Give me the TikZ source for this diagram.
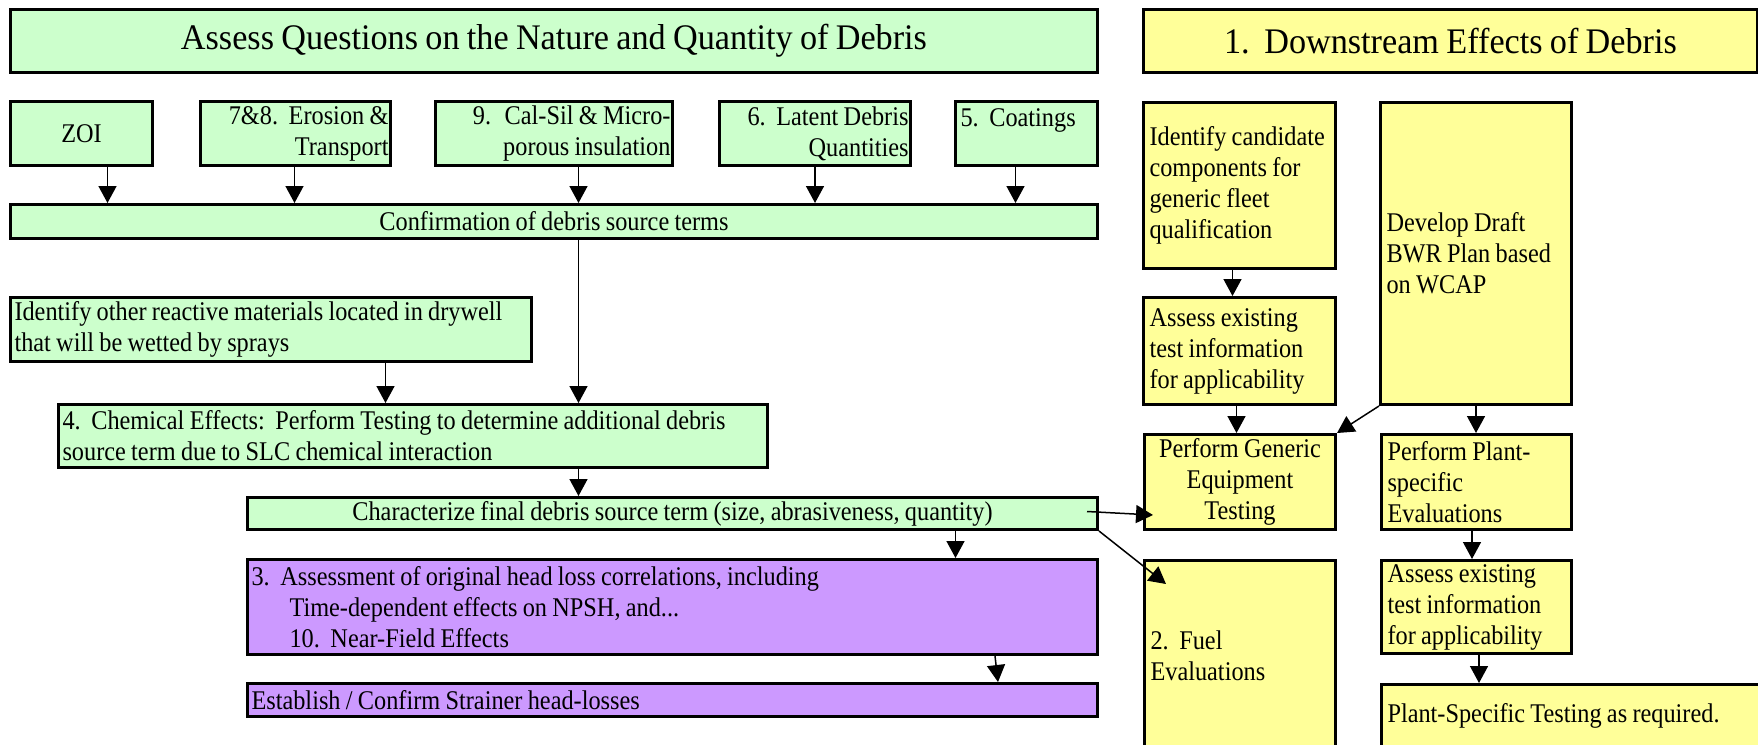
\documentclass[tikz,border=0pt]{standalone}
\usepackage{fontspec}
\setmainfont{Liberation Serif}[FakeStretch=0.9]
\newfontfamily\ttlfont{Liberation Serif}[FakeStretch=0.95]
\usetikzlibrary{arrows.meta,calc}
\definecolor{gfill}{HTML}{CCFFCC}
\definecolor{yfill}{HTML}{FFFF99}
\definecolor{pfill}{HTML}{CC99FF}
\begin{document}
\begin{tikzpicture}[x=1pt,y=-1pt,
  box/.style={draw, line width=3pt, inner xsep=4pt, inner ysep=0pt, anchor=north west,
              font=\fontsize{27}{31}\selectfont,
              execute at begin node={\spaceskip=5.3pt\relax}},
  gbox/.style={box, fill=gfill},
  ybox/.style={box, fill=yfill, inner xsep=6pt},
  pbox/.style={box, fill=pfill},
  ttl/.style={draw, line width=3pt, inner sep=0pt, anchor=north west, align=center,
              font=\ttlfont\fontsize{36}{40}\selectfont,
              execute at begin node={\spaceskip=7.3pt\relax}},
  arr/.style={-{Triangle[length=17pt,width=18pt]}, line width=1.5pt}]
\clip (0,0) rectangle (1758,744);
\fill[white] (0,0) rectangle (1758,744);

% titles
\node[ttl, fill=gfill, minimum width=1087pt, minimum height=63pt, text width=1087pt] (t1) at (9,8)
  {Assess Questions on the Nature and Quantity of Debris};
\node[ttl, fill=yfill, minimum width=614pt, minimum height=63pt, text width=614pt] (t2) at (1142,8)
  {1.\ \ Downstream Effects of Debris};

% top row
\node[gbox, minimum width=142pt, minimum height=64pt, text width=134pt, align=center] (zoi) at (9,100) {ZOI};
\node[gbox, inner xsep=2pt, minimum width=190pt, minimum height=64pt, text width=186pt, align=right] (ero) at (199,100)
  {7\&8.\ \ Erosion \&\\Transport};
\node[gbox, inner xsep=2pt, minimum width=237pt, minimum height=64pt, text width=233pt, align=right] (cal) at (434,100)
  {9. Cal-Sil \& Micro-\\porous insulation};
\node[gbox, inner xsep=2pt, minimum width=191pt, minimum height=64pt, text width=187pt, align=right] (lat) at (718,100)
  {6.\ \ Latent Debris\\Quantities};
\node[gbox, inner xsep=5pt, minimum width=142pt, minimum height=64pt, text width=132pt, align=left] (coat) at (954,100)
  {5.\ \ Coatings\\\phantom{X}};

\node[gbox, minimum width=1087pt, minimum height=34pt, text width=1079pt, align=center] (conf) at (9,203)
  {Confirmation of debris source terms};
\node[gbox, minimum width=521pt, minimum height=64pt, text width=513pt, align=left] (ident) at (9,296)
  {Identify other reactive materials located in drywell\\that will be wetted by sprays};
\node[gbox, minimum width=709pt, minimum height=63pt, text width=701pt, align=left] (chem) at (57,403)
  {4.\ \ Chemical Effects:\ \ Perform Testing to determine additional debris\\source term due to SLC chemical interaction};
\node[gbox, minimum width=850pt, minimum height=32pt, text width=842pt, align=center] (char) at (246,496)
  {Characterize final debris source term (size, abrasiveness, quantity)};
\node[pbox, minimum width=850pt, minimum height=95pt, text width=842pt, align=left] (assess) at (246,558)
  {3.\ \ Assessment of original head loss correlations, including\\
   \hspace*{38pt}Time-dependent effects on NPSH, and...\\
   \hspace*{38pt}10.\ \ Near-Field Effects};
\node[pbox, minimum width=850pt, minimum height=33pt, text width=842pt, align=left] (estab) at (246,682)
  {Establish / Confirm Strainer head-losses};

% right side
\node[ybox, minimum width=192pt, minimum height=166pt, text width=180pt, align=left] (cand) at (1142,101)
  {Identify candidate\\components for\\generic fleet\\qualification};
\node[ybox, minimum width=192pt, minimum height=107pt, text width=180pt, align=left] (ass1) at (1142,296)
  {Assess existing\\test information\\for applicability};
\node[ybox, minimum width=191pt, minimum height=302pt, text width=179pt, align=left] (dev) at (1379,101)
  {Develop Draft\\BWR Plan based\\on WCAP};
\node[ybox, minimum width=191pt, minimum height=95pt, text width=179pt, align=center] (pg) at (1143,433)
  {Perform Generic\\Equipment\\Testing};
\node[ybox, minimum width=190pt, minimum height=95pt, text width=178pt, align=left] (pp) at (1380,433)
  {Perform Plant-\\specific\\Evaluations};
\node[ybox, minimum width=191pt, minimum height=191pt, text width=179pt, align=left] (fuel) at (1143,559)
  {2.\ \ Fuel\\Evaluations};
\node[ybox, minimum width=190pt, minimum height=93pt, text width=178pt, align=left] (ass2) at (1380,559)
  {Assess existing\\test information\\for applicability};
\node[ybox, minimum width=380pt, minimum height=63pt, text width=368pt, align=left] (pst) at (1380,683)
  {Plant-Specific Testing as required.};

% connectors
\coordinate (a1) at ([xshift=26pt]zoi.south);   \draw[arr] (a1) -- (a1 |- conf.north);
\coordinate (a2) at ([xshift=-1pt]ero.south);   \draw[arr] (a2) -- (a2 |- conf.north);
\coordinate (a3) at ([xshift=24.5pt]cal.south); \draw[arr] (a3) -- (a3 |- conf.north);
\coordinate (a4) at (lat.south);                \draw[arr] (a4) -- (a4 |- conf.north);
\coordinate (a5) at ([xshift=-11pt]coat.south); \draw[arr] (a5) -- (a5 |- conf.north);
\coordinate (a6) at ([xshift=24.5pt]conf.south); \draw[arr] (a6) -- (a6 |- chem.north);
\coordinate (a7) at ([xshift=114.5pt]ident.south); \draw[arr] (a7) -- (a7 |- chem.north);
\coordinate (a8) at ([xshift=165.5pt]chem.south); \draw[arr] (a8) -- (a8 |- char.north);
\coordinate (a9) at ([xshift=283pt]char.south); \draw[arr] (a9) -- (a9 |- assess.north);
\draw[arr] ($(assess.south west)+(749,0)$) -- ($(estab.north west)+(752,0)$);
\draw[arr] ($(char.east)+(-12,-2)$) -- ($(pg.south west)+(10,-16)$);
\draw[arr] (char.south east) -- ($(fuel.north west)+(23,25)$);

\coordinate (b1) at ([xshift=-7pt]cand.south);  \draw[arr] (b1) -- (b1 |- ass1.north);
\coordinate (b2) at ([xshift=-3pt]ass1.south);  \draw[arr] (b2) -- (b2 |- pg.north);
\draw[arr] (dev.south west) -- (pg.north east);
\coordinate (b3) at (dev.south);                \draw[arr] (b3) -- (b3 |- pp.north);
\coordinate (b4) at ([xshift=-4.5pt]pp.south);  \draw[arr] (b4) -- (b4 |- ass2.north);
\coordinate (b5) at ([xshift=2.5pt]ass2.south); \draw[arr] (b5) -- (b5 |- pst.north);
\end{tikzpicture}
\end{document}
